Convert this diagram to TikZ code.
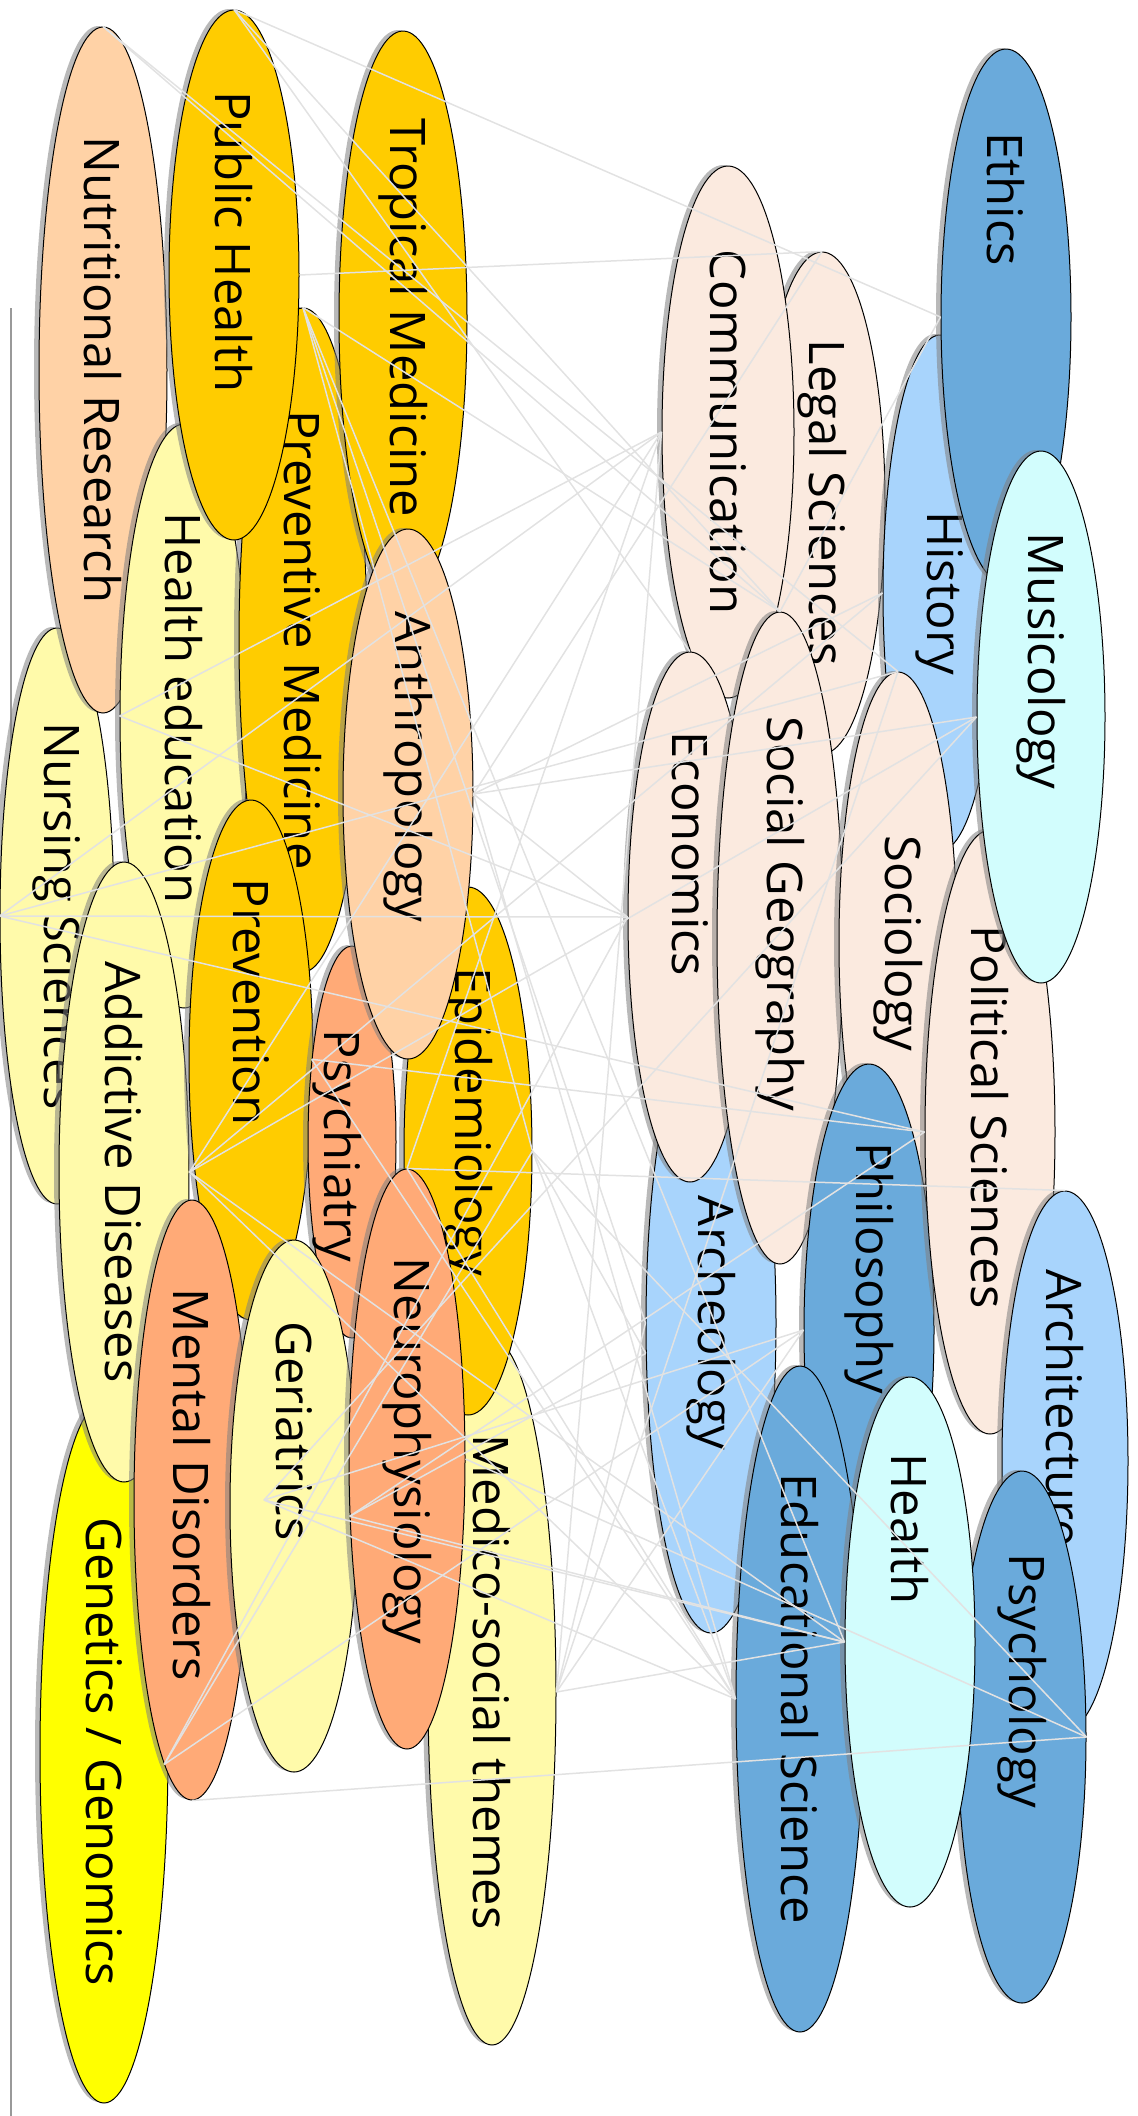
\documentclass[tikz,border=0pt]{standalone}
\usepackage{fontspec}
\setmainfont{Open Sans}
\usetikzlibrary{shapes.geometric,shadows,calc}
\definecolor{gold}{HTML}{FFCC00}
\definecolor{paleyellow}{HTML}{FFFAAA}
\definecolor{peach}{HTML}{FFD2A6}
\definecolor{salmon}{HTML}{FFAA77}
\definecolor{lemon}{HTML}{FFFF00}
\definecolor{palepeach}{HTML}{FBEADF}
\definecolor{midblue}{HTML}{6AAADB}
\definecolor{skyblue}{HTML}{A8D4FC}
\definecolor{palecyan}{HTML}{D2FDFD}
\definecolor{linkgrey}{HTML}{E2E2E2}
\newcommand{\lblfont}{\fontsize{24.5}{29}\selectfont}

\begin{document}
\begin{tikzpicture}[x=0.5pt, y=-0.5pt,
    blob/.style={ellipse, draw=black, line width=0.5pt, inner sep=0pt, fill=#1,
        drop shadow={shadow xshift=-2.5pt, shadow yshift=0.5pt, opacity=0.55}},
    dims/.style 2 args={minimum width=#1pt, minimum height=#2pt},
    lbl/.style={rotate=-90, font=\lblfont, inner sep=0pt},
    link/.style={draw=linkgrey, line width=0.75pt},
    axis/.style={draw=black!40, line width=0.7pt}
]
\useasboundingbox (0,0) rectangle (1138,2116);

% Axis on the left
\coordinate (axtop) at (11,308);
\coordinate (axbot) at (11,2116);
\draw[axis] (axtop) -- (axbot);

% Medical disciplines
\node[blob=lemon, dims={64}{351}, label={[lbl]center:Genetics / Genomics}] (genetics) at (104,1752) {};
\node[blob=paleyellow, dims={57}{288}, label={[lbl]center:Nursing Sciences}] (nursing) at (57,916) {};
\node[blob=peach, dims={64}{343}, label={[lbl]center:Nutritional Research}] (nutri) at (103,370) {};
\node[blob=paleyellow, dims={64}{292}, label={[yshift=4pt,lbl]center:Health education}] (healthed) at (184,716) {};
\node[blob=gold, dims={64}{332}, label={[lbl]center:Preventive Medicine}] (prevmed) at (303,640) {};
\node[blob=gold, dims={65}{265}, label={[yshift=16.5pt,lbl]center:Public Health}] (pubh) at (234,275) {};
\node[blob=gold, dims={64}{287}, label={[lbl]center:Tropical Medicine}] (tropic) at (403,318) {};
\node[blob=paleyellow, dims={64}{353}, label={[yshift=5pt,lbl]center:Medico-social themes}] (medsoc) at (492,1692) {};
\node[blob=paleyellow, dims={65}{310}, label={[lbl]center:Addictive Diseases}] (addict) at (124,1172) {};
\node[blob=gold, dims={62}{260}, label={[yshift=29pt,lbl]center:Prevention}] (prevent) at (251,1060) {};
\node[blob=salmon, dims={44}{196}, label={[yshift=-2pt,xshift=-7.5pt,lbl]center:Psychiatry}] (psychia) at (352,1142) {};
\node[blob=gold, dims={64}{264}, label={[yshift=14.5pt,lbl]center:Epidemiology}] (epidem) at (468,1151) {};
\node[blob=peach, dims={65}{265}, label={[yshift=13.5pt,lbl]center:Anthropology}] (anthro) at (408,794) {};
\node[blob=salmon, dims={58}{300}, label={[yshift=7.5pt,lbl]center:Mental Disorders}] (mental) at (192,1500) {};
\node[blob=paleyellow, dims={64}{266}, label={[yshift=37.5pt,lbl]center:Geriatrics}] (geria) at (294,1506) {};
\node[blob=salmon, dims={58}{290}, label={[yshift=4pt,lbl]center:Neurophysiology}] (neuro) at (407,1459) {};

% Humanities and social sciences
\node[blob=palepeach, dims={63}{251}, label={[lbl]center:Legal Sciences}] (legal) at (822,503) {};
\node[blob=palepeach, dims={66}{266}, label={[lbl]center:Communication}] (comm) at (728,432) {};
\node[blob=skyblue, dims={57}{258}, label={[lbl]center:History}] (history) at (940,593) {};
\node[blob=midblue, dims={65}{268}, label={[yshift=59pt,lbl]center:Ethics}] (ethics) at (1006,317) {};
\node[blob=skyblue, dims={65}{310}, label={[lbl]center:Archeology}] (archeo) at (711,1323) {};
\node[blob=palepeach, dims={62}{265}, label={[yshift=31.5pt,lbl]center:Economics}] (econ) at (690,917) {};
\node[blob=palepeach, dims={63}{326}, label={[yshift=12pt,lbl]center:Social Geography}] (socgeo) at (780,938) {};
\node[blob=palepeach, dims={59}{271}, label={[lbl]center:Sociology}] (sociol) at (898,943) {};
\node[blob=midblue, dims={65}{266}, label={[yshift=31pt,lbl]center:Philosophy}] (philo) at (869,1330) {};
\node[blob=palepeach, dims={65}{302}, label={[yshift=7.5pt,lbl]center:Political Sciences}] (polsci) at (990,1132) {};
\node[blob=palecyan, dims={64}{266}, label={[yshift=28pt,lbl]center:Musicology}] (music) at (1041,717) {};
\node[blob=midblue, dims={64}{333}, label={[lbl]center:Educational Science}] (edusci) at (800,1699) {};
\node[blob=skyblue, dims={63}{270}, label={[yshift=26.5pt,lbl]center:Architecture}] (archi) at (1065,1461) {};
\node[blob=midblue, dims={64}{266}, label={[yshift=28pt,lbl]center:Psychology}] (psycho) at (1022,1737) {};
\node[blob=palecyan, dims={65}{265}, label={[yshift=56.5pt,lbl]center:Health}] (health) at (910,1642) {};

\coordinate (geriahub) at ($(geria.center)+(-30,-6)$);

% Links from the upper left group
\draw[link] (nutri.north) -- (socgeo.north);
\draw[link] (nutri.north) -- (sociol.north);
\draw[link] (pubh.north) -- (ethics.west);
\draw[link] (pubh.north) -- (socgeo.north);
\draw[link] (pubh.north) -- (econ.north);
\draw[link] (pubh.east) -- (legal.north);
\draw[link] (prevmed.north) -- (socgeo.north);
\draw[link] (prevmed.north) -- (epidem.east);
\draw[link] (prevmed.north) -- (archeo.west);
\draw[link] (prevmed.north) -- (health.west);

% Links from the middle left group
\draw[link] (nursing.west) -- (econ.west);
\draw[link] (nursing.west) -- (polsci.west);
\draw[link] (nursing.west) -- (sociol.north);
\draw[link] (nursing.west) -- (comm.west);
\draw[link] (healthed.west) -- (comm.west);
\draw[link] (healthed.west) -- (econ.west);
\draw[link] (anthro.east) -- (history.west);
\draw[link] (anthro.east) -- (legal.north);
\draw[link] (anthro.east) -- (music.west);
\draw[link] (anthro.east) -- (econ.west);
\draw[link] (anthro.east) -- (edusci.west);
\draw[link] (addict.east) -- (comm.west);
\draw[link] (addict.east) -- (music.west);
\draw[link] (addict.east) -- (history.west);
\draw[link] (addict.east) -- (health.west);
\draw[link] (addict.east) -- (edusci.west);
\draw[link] (psychia.116) -- (polsci.west);
\draw[link] (psychia.116) -- (edusci.west);
\draw[link] (epidem.east) -- (psycho.east);
\draw[link] (epidem.east) -- (edusci.west);
\draw[link] (epidem.east) -- (archeo.205);

% Links from the lower left group
\draw[link] (neuro.north) -- (archi.north);
\draw[link] (neuro.north) -- (comm.west);
\draw[link] (neuro.north) -- (edusci.west);
\draw[link] (neuro.225) -- (polsci.west);
\draw[link] (neuro.225) -- (health.west);
\draw[link] (neuro.225) -- (archeo.205);
\draw[link] (neuro.east) -- (psycho.east);
\draw[link] (mental.south) -- (psycho.east);
\draw[link] (mental.264) -- (epidem.east);
\draw[link] (mental.264) -- (philo.west);
\draw[link] (mental.264) -- (econ.west);
\draw[link] (geriahub) -- (health.west);
\draw[link] (geriahub) -- (edusci.west);
\draw[link] (geriahub) -- (music.west);
\draw[link] (geriahub) -- (philo.west);
\draw[link] (medsoc.east) -- (philo.west);
\draw[link] (medsoc.east) -- (archeo.west);
\draw[link] (medsoc.east) -- (health.west);
\draw[link] (medsoc.east) -- (comm.west);
\draw[link] (medsoc.east) -- (sociol.north);

% Links inside the right group
\draw[link] (ethics.west) -- (socgeo.north);

\end{tikzpicture}
\end{document}
